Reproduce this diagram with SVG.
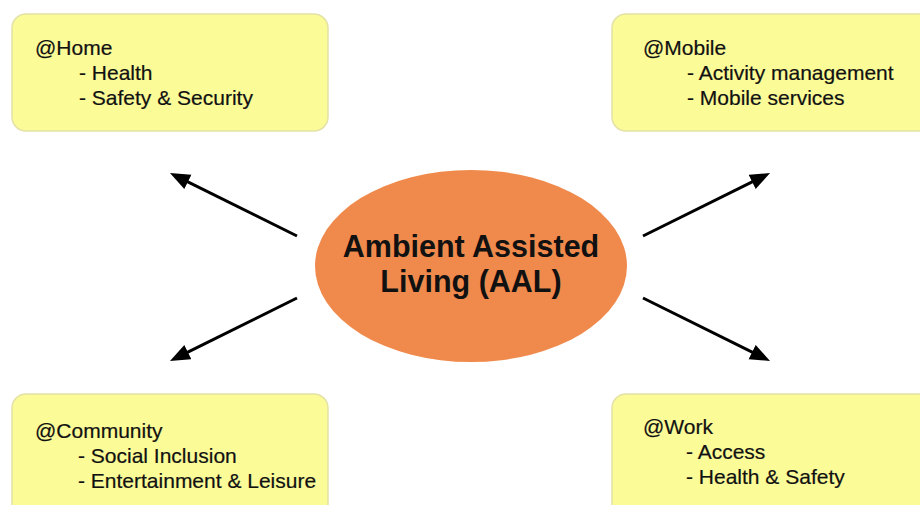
<svg xmlns="http://www.w3.org/2000/svg" width="920" height="505" viewBox="0 0 920 505">
<style>
.box{fill:#fbfb98;stroke:#e4e2a6;stroke-width:1.5}
.t{font-family:"Liberation Sans",Arial,sans-serif;font-size:21px;fill:#111;stroke:#111;stroke-width:0.2}
.c{font-family:"Liberation Sans",Arial,sans-serif;font-size:30.5px;font-weight:bold;fill:#111;text-anchor:middle}
.arr{stroke:#000;stroke-width:3;fill:none;marker-end:url(#ah)}
</style>
<defs>
<marker id="ah" markerUnits="userSpaceOnUse" markerWidth="22" markerHeight="18" refX="4" refY="8" orient="auto">
<path d="M0,0 L20,8 L0,16 Z" fill="#000"/>
</marker>
</defs>
<rect width="920" height="505" fill="#fff"/>
<g id="home">
<rect class="box" x="12" y="14" width="316" height="117" rx="14"/>
<text class="t" x="35" y="55">@Home</text>
<text class="t" x="79" y="80">- Health</text>
<text class="t" x="79" y="105">- Safety &amp; Security</text>
</g>
<g id="mobile">
<rect class="box" x="612" y="14" width="330" height="117" rx="14"/>
<text class="t" x="643" y="55">@Mobile</text>
<text class="t" x="687" y="80">- Activity management</text>
<text class="t" x="687" y="105">- Mobile services</text>
</g>
<g id="community">
<rect class="box" x="12" y="394" width="316" height="130" rx="14"/>
<text class="t" x="35" y="438">@Community</text>
<text class="t" x="78" y="463">- Social Inclusion</text>
<text class="t" x="78" y="488">- Entertainment &amp; Leisure</text>
</g>
<g id="work">
<rect class="box" x="612" y="394" width="330" height="130" rx="14"/>
<text class="t" x="643" y="434">@Work</text>
<text class="t" x="686" y="459">- Access</text>
<text class="t" x="686" y="484">- Health &amp; Safety</text>
</g>
<g id="aal">
<ellipse cx="471" cy="266" rx="156" ry="96" fill="#f08a4c"/>
<text class="c" x="471" y="257">Ambient Assisted</text>
<text class="c" x="471" y="292">Living (AAL)</text>
</g>
<g id="connectors">
<line class="arr" x1="297" y1="236" x2="184.3" y2="180.1"/>
<line class="arr" x1="297" y1="298" x2="184.3" y2="353.9"/>
<line class="arr" x1="643" y1="236" x2="755.7" y2="180.1"/>
<line class="arr" x1="643" y1="298" x2="755.7" y2="353.9"/>
</g>
</svg>
